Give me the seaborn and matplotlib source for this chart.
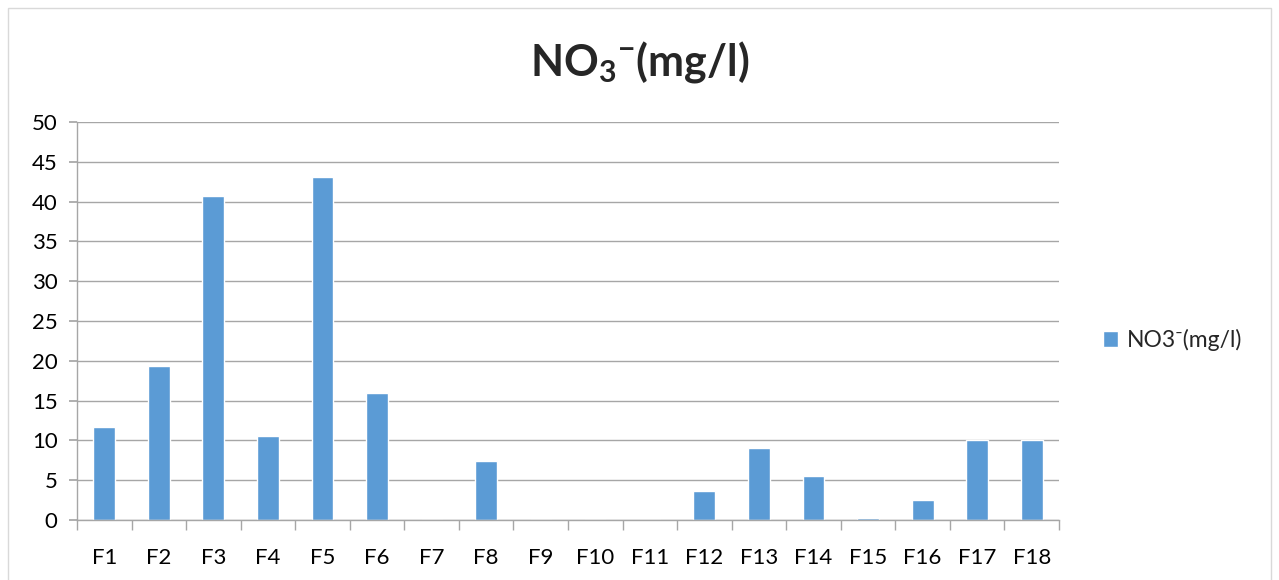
import pandas as pd
import matplotlib.pyplot as plt
import seaborn as sns
from matplotlib.patches import Rectangle

sites = ["F1", "F2", "F3", "F4", "F5", "F6", "F7", "F8", "F9", "F10",
         "F11", "F12", "F13", "F14", "F15", "F16", "F17", "F18"]
no3 = [11.7, 19.3, 40.7, 10.6, 43.1, 16.0, 0, 7.4, 0, 0,
       0, 3.7, 9.0, 5.5, 0.25, 2.5, 10.0, 10.0]
yticks = list(range(0, 51, 5))

df = pd.DataFrame({"site": sites, "no3": no3})

sns.set_theme(style="white")
plt.rcParams['font.family'] = ['Lato', 'DejaVu Sans']
plt.rcParams['mathtext.fontset'] = 'custom'
plt.rcParams['mathtext.rm'] = 'Lato'
plt.rcParams['mathtext.bf'] = 'Lato:bold'

fig = plt.figure(figsize=(12.79, 5.80), dpi=100)
ax = fig.add_axes([0.0602, 0.1035, 0.7678, 0.6862])

bar_color = "#5B9BD5"
sns.barplot(data=df, x="site", y="no3", color=bar_color, width=0.4,
            saturation=1, ax=ax, label="NO3\u207b(mg/l)")

ax.set_ylim(0, 50)
ax.set_xlim(-0.5, len(sites) - 0.5)
ax.set_yticks(yticks)
ax.set_xlabel("")
ax.set_ylabel("")
ax.yaxis.grid(True, color="#a6a6a6", linewidth=1)
ax.set_axisbelow(True)
for s in ["top", "right"]:
    ax.spines[s].set_visible(False)
for s in ["left", "bottom"]:
    ax.spines[s].set_color("#a6a6a6")
    ax.spines[s].set_linewidth(1)

# ticks between categories on x, left on y
ax.set_xticks([i + 0.5 for i in range(-1, len(sites))], minor=True)
ax.tick_params(axis="x", which="minor", length=7, color="#a6a6a6", direction="out", bottom=True)
ax.tick_params(axis="x", which="major", length=0, labelsize=16, pad=20, colors="black")
ax.tick_params(axis="y", length=6, color="#a6a6a6", direction="out", left=True,
               labelsize=16, pad=8, colors="black")

fig.text(0.5, 0.893, r"NO$_\mathbf{3}$$^{\mathbf{-}}$(mg/l)", ha="center", va="center",
         fontsize=31, fontweight="bold")

leg = ax.legend(loc="center left", bbox_to_anchor=(0.846, 0.414),
                bbox_transform=fig.transFigure, frameon=False, fontsize=16.5,
                handlelength=0.65, handleheight=0.65, handletextpad=0.4)

fig.patches.append(Rectangle((0.0063, -0.05), 0.9875, 1.036, transform=fig.transFigure,
                             fill=False, edgecolor="#d9d9d9", linewidth=1))

fig.savefig("out.png", dpi=100)
